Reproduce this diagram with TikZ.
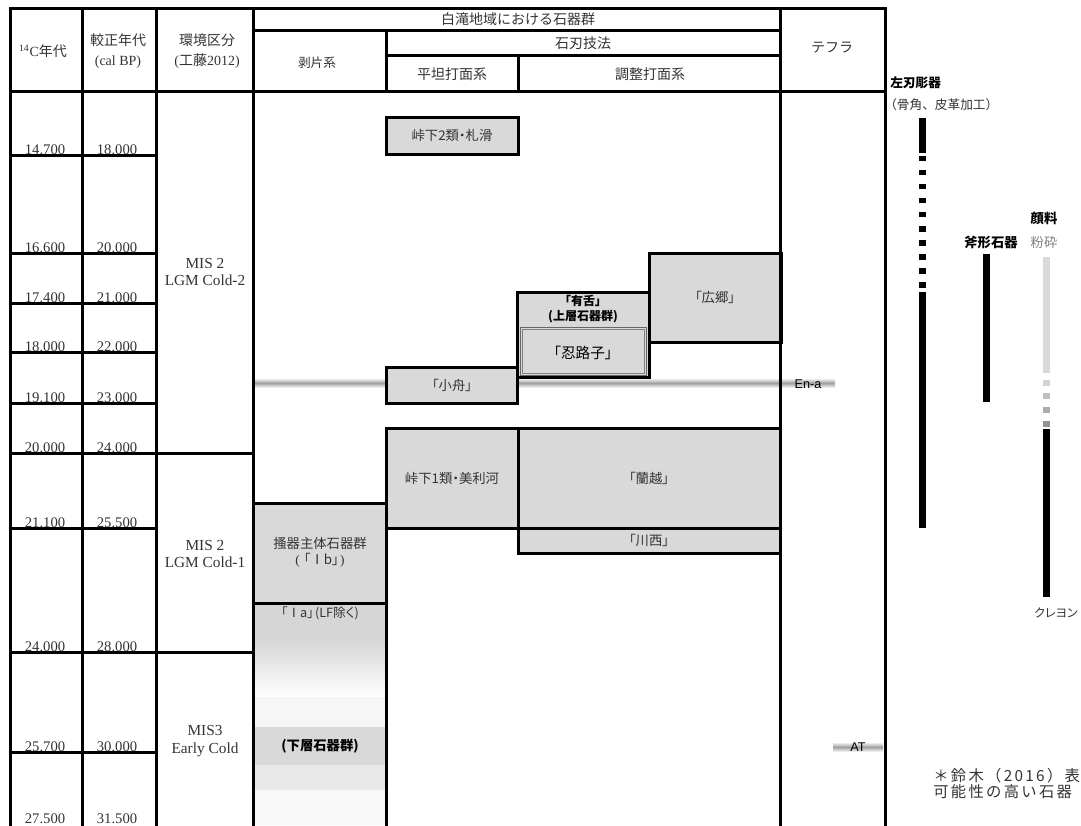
\documentclass[tikz,border=0pt]{standalone}
\usepackage{fontspec}
\setmainfont{Liberation Serif}
\newfontfamily\jp[RawFeature=+palt]{Noto Sans CJK JP}
\newfontfamily\jpf{Noto Sans CJK JP}
\newfontfamily\sansf{Liberation Sans}
\definecolor{boxgray}{HTML}{D9D9D9}
\definecolor{txt}{HTML}{333333}
\definecolor{ga}{HTML}{D6D6D6}
\definecolor{gb}{HTML}{F6F6F6}
\definecolor{gc}{HTML}{E8E8E8}
\definecolor{gd}{HTML}{F8F8F8}
\definecolor{pig}{HTML}{DADADA}
\tikzset{
  tl/.style={line width=2.25pt, line cap=rect},
  gbx/.style={fill=boxgray, draw=black, line width=2.25pt},
  hd/.style={font=\fontsize{10.5}{15}\selectfont, text=txt, align=center, inner sep=0pt},
  jh/.style={font=\jpf\fontsize{10.5}{14}\selectfont, text=txt, align=center, inner sep=0pt},
  jt/.style={font=\jp\fontsize{10}{13}\selectfont, text=txt, align=center, inner sep=0pt},
  nm/.style={font=\fontsize{11}{13}\selectfont, text=txt, anchor=base, inner sep=0pt},
  envt/.style={font=\fontsize{11.5}{13}\selectfont, text=txt, align=center, inner sep=0pt},
  jbold/.style={font=\jp\bfseries\fontsize{9}{12}\selectfont, text=black, align=center, inner sep=0pt},
  ena/.style={top color=white, bottom color=white, middle color=gray!75},
  tef/.style={font=\sansf\fontsize{9.5}{10}\selectfont, text=black, inner sep=0pt},
}
\begin{document}
\begin{tikzpicture}[x=0.75pt,y=-0.75pt]
\useasboundingbox (0,0) rectangle (1081,825);
\clip (0,0) rectangle (1081,825);

% ---- Ia gradient column ----
\fill[ga] (253,603) rectangle (386,640);
\shade[top color=ga, bottom color=white] (253,640) rectangle (386,697);
\fill[gb] (253,697) rectangle (386,727);
\fill[boxgray] (253,727) rectangle (386,765);
\fill[gc] (253,765) rectangle (386,790);
\fill[gd] (253,790) rectangle (386,825);

% ---- tephra bars ----
\shade[ena] (255,378) rectangle (386,388);
\shade[ena] (517,378) rectangle (780,388);
\shade[ena] (781,378) rectangle (835,388);
\shade[ena] (833,742) rectangle (883,752);

% ---- boxes ----
\draw[gbx] (386,117) rectangle (518,154);
\draw[gbx] (386,367) rectangle (517,403);
\draw[gbx] (649,253) rectangle (781,342);
\draw[gbx] (517,292) rectangle (649,377);
\fill[boxgray] (520,327) rectangle (647,376);
\draw[gray!80!black, line width=0.6pt] (520.5,327.5) rectangle (646.5,375.5);
\draw[gray, line width=0.6pt] (522.5,329.5) rectangle (644.5,373.5);
\draw[gbx] (386,428) rectangle (518,528);
\draw[gbx] (518,428) rectangle (780,528);
\draw[gbx] (518,528) rectangle (780,553);
\draw[gbx] (253,503) rectangle (386,603);

% ---- header texts ----
\node[hd] (h14) at (43,51) {\textsuperscript{14}C{\jpf 年代}};
\node[hd] (hcal) at (118,51) {{\jpf 較正年代}\\(cal BP)};
\node[hd] (henv) at (207,51) {{\jpf 環境区分}\\({\jpf 工藤}2012)};
\node[jh, font=\jpf\fontsize{9.5}{12}\selectfont] (hflake) at (317,63) {剥片系};
\node[jh] (hshira) at (518,19) {白滝地域における石器群};
\node[jh] (hblade) at (583,43) {石刃技法};
\node[jh] (hflat) at (452,74) {平坦打面系};
\node[jh] (hprep) at (650,74) {調整打面系};
\node[jh] (htephra) at (832,48) {テフラ};

% ---- environment ----
\node[envt] (e1) at (205,272) {MIS 2\\LGM Cold-2};
\node[envt] (e2) at (205,554) {MIS 2\\LGM Cold-1};
\node[envt] (e3) at (205,741) {MIS3\\Early Cold};

% ---- box texts ----
\node[jt] (t1) at (452,135.5) {峠下2類・札滑};
\node[jt] (t2) at (452,385) {「小舟」};
\node[jbold, font=\jp\bfseries\fontsize{9}{12.75}\selectfont] (t3a) at (583,300.5) {「有舌」};
\node[jbold, font=\jp\bfseries\fontsize{9}{12.75}\selectfont] (t3b) at (583,317) {(上層石器群)};
\node[jt, font=\jp\fontsize{11}{13}\selectfont, text=black] (t4) at (583,353) {「忍路子」};
\node[jt] (t5) at (715,297) {「広郷」};
\node[jt] (t6) at (452,478) {峠下1類・美利河};
\node[jt] (t7) at (649,478) {「蘭越」};
\node[jt] (t8) at (649,540) {「川西」};
\node[jt] (t9a) at (320,543) {搔器主体石器群};
\node[jt] (t9b) at (320,560) {{\rmfamily(}\hspace{3pt}「Ⅰb」\hspace{1pt}{\rmfamily)}};
\node[jt, font=\jp\fontsize{9.5}{12}\selectfont] (t10) at (320,613) {「Ⅰa」\hspace{1pt}(LF除く)};
\node[jbold, font=\jp\bfseries\fontsize{10}{12}\selectfont] (t11) at (320,746) {(下層石器群)};

% ---- tephra labels ----
\node[tef] (ena) at (808,384) {En-a};
\node[tef] (at) at (858,747) {AT};

% ---- ages ----
\foreach \y/\a/\b in {155/14.700/18.000, 253/16.600/20.000, 303/17.400/21.000,
  352/18.000/22.000, 403/19.100/23.000, 453/20.000/24.000, 528/21.100/25.500,
  652/24.000/28.000, 752/25.700/30.000, 824/27.500/31.500} {
  \node[nm] (l\y) at (45,\y-0.5) {\a};
  \node[nm] (r\y) at (117,\y-0.5) {\b};
}

% ---- grid lines ----
\draw[tl] (10,8) -- (885,8);
\draw[tl] (10,91) -- (885,91);
\draw[tl] (253,30) -- (780,30);
\draw[tl] (386,55) -- (780,55);
\foreach \x in {10,82,156,253,780,885} \draw[tl] (\x,8) -- (\x,830);
\draw[tl] (386,30) -- (386,91);
\draw[tl] (518,55) -- (518,91);
\draw[tl] (386,503) -- (386,830);
\foreach \y in {155,253,303,352,403,528,752} \draw[tl] (10,\y) -- (156,\y);
\foreach \y in {453,652} \draw[tl] (10,\y) -- (253,\y);

% ---- right side: tool ranges ----
\node[jbold, anchor=west, font=\jp\bfseries\fontsize{9.5}{12}\selectfont] (kc) at (890,83) {左刃彫器};
\node[jt, anchor=west, font=\jpf\fontsize{9.5}{12}\selectfont] (kcsub) at (884,105) {（骨角、皮革加工）};
\fill (919,118) rectangle (926,153);
\foreach \k in {0,...,9} \fill (919,155.5+14.1*\k) rectangle +(7,5.5);
\fill (919,292) rectangle (926,528);

\node[jbold, font=\jp\bfseries\fontsize{10}{12}\selectfont] (ono) at (991,242) {斧形石器};
\fill (983,254) rectangle (990,402);

\node[jbold, font=\jp\bfseries\fontsize{10}{12}\selectfont] (ganryo) at (1044,218) {顔料};
\node[jt, font=\jp\fontsize{10}{12}\selectfont, text=gray] (funsai) at (1044,242) {粉砕};
\fill[pig] (1043,257) rectangle (1050,373);
\fill[gray!35] (1043,380) rectangle (1050,386);
\fill[gray!50] (1043,393) rectangle (1050,399);
\fill[gray!65] (1043,407) rectangle (1050,413);
\fill[gray!85] (1043,421) rectangle (1050,427);
\fill (1043,429) rectangle (1050,597);
\node[jt, font=\jp\fontsize{9}{12}\selectfont] (crayon) at (1056,613) {クレヨン};

% ---- footnote ----
\node[jt, anchor=west, font=\jpf\fontsize{11.5}{13}\selectfont\addfontfeature{LetterSpace=15}] (fn1) at (933,776) {＊鈴木（2016）表};
\node[jt, anchor=west, font=\jpf\fontsize{11.5}{13}\selectfont\addfontfeature{LetterSpace=15}] (fn2) at (933,792) {可能性の高い石器};
\end{tikzpicture}
\end{document}
